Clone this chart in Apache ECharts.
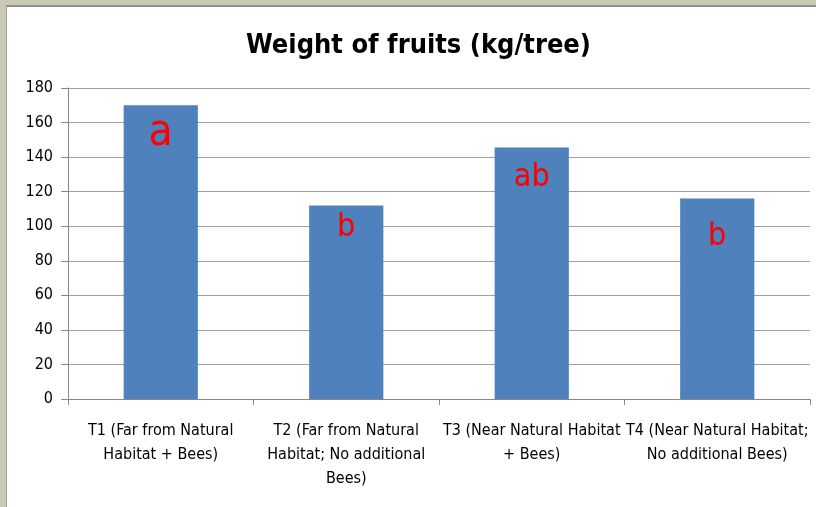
<!DOCTYPE html>
<html><head><meta charset="utf-8">
<script src="https://cdn.jsdelivr.net/npm/echarts@6/dist/echarts.min.js"></script>
<style>html,body{margin:0;padding:0;background:#fff}#c{width:816px;height:507px}</style>
</head><body><div id="c"></div>
<script>
const categories = [
  "T1 (Far from Natural\nHabitat + Bees)",
  "T2 (Far from Natural\nHabitat; No additional\nBees)",
  "T3 (Near Natural Habitat\n+ Bees)",
  "T4 (Near Natural Habitat;\nNo additional Bees)"
];
const weights = [170, 112, 145.5, 116];
const letters = ["a", "b", "ab", "b"];
const yTicks = {min: 0, max: 180, interval: 20};

const narrow = '"Liberation Sans Narrow","DejaVu Sans Condensed",sans-serif';
const letterStyle = [
  {fontSize: 44, offset: [0, 6]},
  {fontSize: 32, offset: [0, 6]},
  {fontSize: 32, offset: [0, 14]},
  {fontSize: 32, offset: [0, 22]}
];
const chart = echarts.init(document.getElementById('c'));
chart.setOption({
  animation: false,
  backgroundColor: '#fff',
  graphic: [
    {type: 'rect', shape: {x: 0, y: 0, width: 816, height: 5}, style: {fill: '#CBC8B6'}, silent: true},
    {type: 'rect', shape: {x: 0, y: 5, width: 816, height: 2}, style: {fill: '#8F8F8F'}, silent: true},
    {type: 'rect', shape: {x: 0, y: 0, width: 6, height: 507}, style: {fill: '#CBC8B6'}, silent: true},
    {type: 'rect', shape: {x: 6, y: 5, width: 1, height: 502}, style: {fill: '#A0A0A0'}, silent: true}
  ],
  title: {
    text: 'Weight of fruits (kg/tree)',
    left: 241, top: 27,
    textStyle: {fontFamily: narrow, fontWeight: 'bold', fontSize: 27, color: '#000'}
  },
  grid: {left: 68, right: 6, top: 88, bottom: 108},
  xAxis: {
    type: 'category', data: categories,
    axisLine: {lineStyle: {color: '#888'}},
    axisTick: {show: true, length: 6, lineStyle: {color: '#888'}},
    axisLabel: {interval: 0, fontFamily: narrow, fontSize: 16, color: '#000', lineHeight: 24, margin: 20}
  },
  yAxis: {
    type: 'value', min: yTicks.min, max: yTicks.max, interval: yTicks.interval,
    axisLine: {show: true, lineStyle: {color: '#888'}},
    axisTick: {show: true, length: 7, lineStyle: {color: '#888'}},
    splitLine: {lineStyle: {color: '#A0A0A0', width: 1}},
    axisLabel: {fontFamily: narrow, fontSize: 16, color: '#000', margin: 15}
  },
  series: [{
    type: 'bar', barWidth: '40%',
    itemStyle: {color: '#4F81BD'},
    data: weights.map((v, i) => ({
      value: v,
      label: {show: true, position: 'insideTop', distance: 0, formatter: letters[i],
        color: '#FF0000', fontFamily: narrow, fontSize: letterStyle[i].fontSize, offset: letterStyle[i].offset}
    }))
  }]
});
</script></body></html>
